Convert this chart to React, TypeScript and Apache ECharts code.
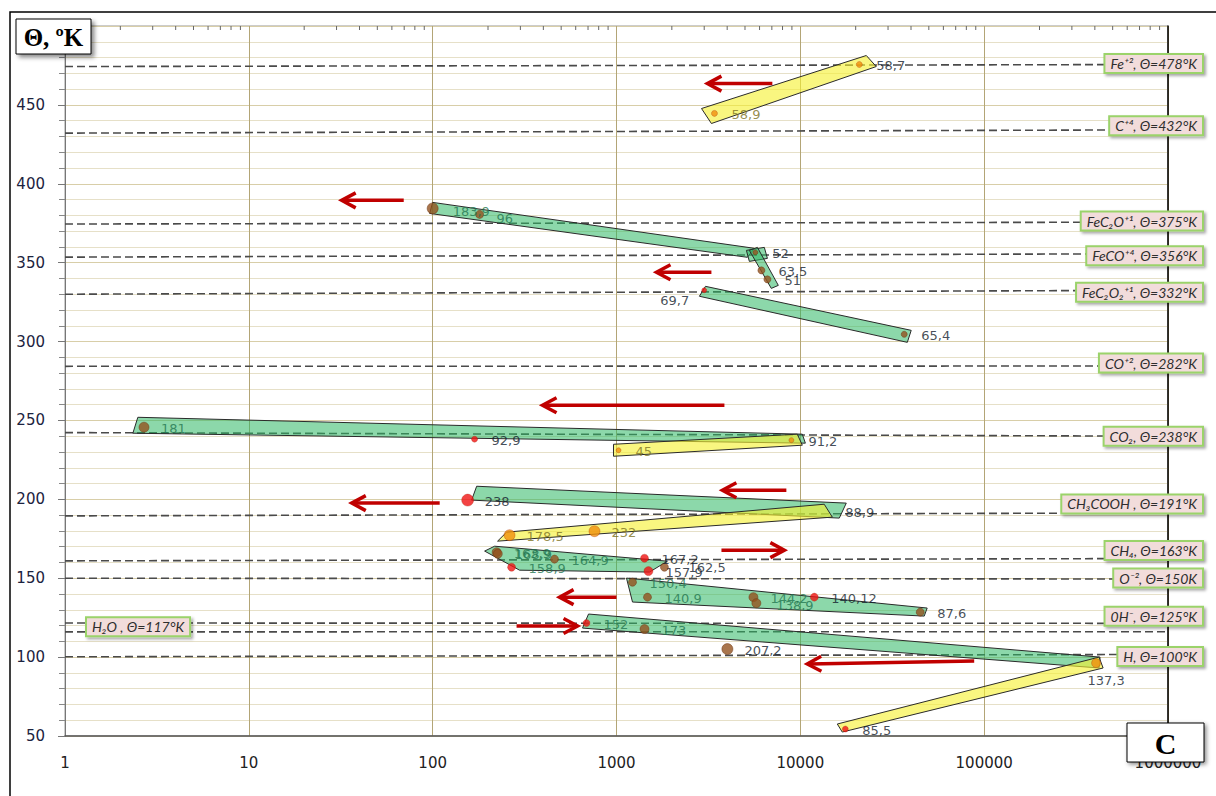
import React, { useEffect, useRef } from "react";
import * as echarts from "echarts";

// ---------- axes ----------
const xMin = 1;
const xMax = 1000000;
const yMin = 50;
const yMax = 500;
const yStep = 50;
const topMinorTicks = [
  2, 3, 4, 5, 6, 7, 8, 9,
  20, 30, 40, 50, 60, 70, 80, 90,
  200, 300, 400, 500, 600, 700, 800, 900,
  2000, 3000, 4000, 5000, 6000, 7000, 8000, 9000,
  20000, 30000, 40000, 50000, 60000, 70000, 80000, 90000,
  200000, 300000, 400000, 500000, 600000, 700000, 800000, 900000,
];

// ---------- reference (dashed) levels ----------
const refLabels = [
  "Fe⁺², Θ=478°K",
  "C⁺⁴, Θ=432°K",
  "FeC₂O⁺¹, Θ=375°K",
  "FeCO⁺⁴, Θ=356°K",
  "FeC₂O₂⁺¹, Θ=332°K",
  "CO⁺², Θ=282°K",
  "CO₂, Θ=238°K",
  "CH₃COOH , Θ=191°K",
  "CH₄, Θ=163°K",
  "O⁻², Θ=150K",
  "0H⁻, Θ=125°K",
  "H₂O , Θ=117°K",
  "H, Θ=100°K",
];
const refStart = [474.3, 432.1, 374.5, 353.5, 330, 284.3, 242.3, 189.5, 161, 150, 121.6, 116, 100.2];
const refEnd = [475.6, 434.2, 375.7, 355.7, 332.5, 284.5, 240, 191.4, 162.5, 149.5, 121.4, 116.1, 101.7];

// ---------- bands (corner points, data units) ----------
const greenBands: number[][][] = [
  [[100, 388.2], [5623, 359.1], [5152, 353.4], [96.3, 381.2]],
  [[5090, 357.8], [6370, 359.7], [6620, 352.7], [5280, 350.8]],
  [[5280, 357.8], [5840, 359.7], [7590, 335.6], [6950, 333.7]],
  [[3048, 335.0], [40100, 307.1], [38190, 299.5], [2825, 328.7]],
  [[2.49, 252.0], [10250, 241.3], [10650, 235.6], [2.34, 241.9]],
  [[173.5, 208.3], [17780, 197.6], [16290, 188.1], [162.9, 199.5]],
  [[191.7, 167.2], [217.3, 170.3], [1893, 160.8], [1511, 153.9], [297, 155.1]],
  [[1133, 150.1], [48980, 131.1], [47200, 126.0], [1222, 134.9]],
  [[704.5, 127.3], [426900, 100.0], [421700, 93.1], [653.5, 118.4]],
];
const yellowBands: number[][][] = [
  [[2900, 447.7], [22850, 481.3], [25880, 474.3], [3283, 438.2]],
  [[963, 234.9], [9630, 241.3], [10250, 234.3], [963, 227.3]],
  [[252.5, 179.2], [13490, 196.9], [14930, 188.7], [225.5, 173.5]],
  [[15890, 57.6], [421700, 100.0], [443600, 93.1], [16910, 52.5]],
];

// ---------- arrows: [x from, y from, x to, y to] ----------
const arrows: number[][] = [
  [7043, 463.5, 3124, 463.5],
  [69.6, 389.5, 32.0, 389.5],
  [3283, 343.9, 1650, 343.9],
  [3864, 259.6, 396, 259.6],
  [8395, 205.8, 3767, 205.8],
  [109.2, 197.6, 36.3, 197.6],
  [3723, 167.8, 8185, 167.8],
  [1000, 138.0, 490, 138.0],
  [286, 119.7, 614, 119.7],
  [88260, 97.5, 10910, 95.6],
];

// ---------- labelled points ----------
const pointX = [
  3411, 20930, 100, 180, 5690, 6140, 6620, 3000, 36740, 2.69, 169, 1026, 8940, 155, 15890, 262, 759,
  222.8, 226, 268.7, 460, 1420, 1492, 1823, 1222, 1474, 5556, 5765, 11910, 44900, 687, 1420, 4010,
  406200, 17570,
];
const pointY = [
  444.6, 475.6, 384.4, 380.6, 356.5, 345.1, 339.4, 332.5, 304.6, 245.7, 238.1, 231.1, 237.5, 199.5,
  192.5, 177.3, 179.8, 166.5, 165.5, 157.0, 162.1, 162.7, 154.5, 157.0, 147.5, 138.0, 138.0, 134.2,
  138.0, 128.5, 121.6, 117.8, 105.1, 96.2, 54.4,
];
const pointLabels = [
  "58,9", "58,7", "183,9", "96", "52", "63,5", "51", "69,7", "65,4", "181", "92,9", "45", "91,2",
  "238", "88,9", "178,5", "232", "163,9", "168,9", "158,9", "164,9", "167,2", "157,9", "162,5",
  "150,4", "140,9", "144,2", "138,9", "140,12", "87,6", "152", "173", "207,2", "137,3", "85,5",
];

// styles (kept apart from the data)
const pointKind = [
  "o", "o", "b", "b", "b", "b", "b", "r", "b", "b", "r", "o", "o", "r", "n", "o", "o",
  "b", "b", "r", "b", "r", "r", "b", "b", "b", "b", "b", "r", "b", "r", "b", "b", "o", "r",
];
const pointSize = [
  6, 6, 11, 8, 5, 7, 7, 5, 6, 10, 6, 5, 5, 12, 1, 11, 11,
  9, 9, 8, 8, 8, 9, 8, 8, 8, 9, 9, 8, 8, 7, 9, 11, 9, 6,
];
const pointTextKind = [
  "y", "d", "g", "g", "d", "d", "d", "d", "d", "g", "d", "y", "d", "d", "d", "y", "y",
  "g", "g", "g", "g", "d", "d", "d", "g", "g", "g", "g", "d", "d", "g", "g", "d", "d", "d",
];
const kindColor: Record<string, string> = { o: "#f0900c", b: "#94521f", r: "#f01414", n: "rgba(0,0,0,0)" };
const textColor: Record<string, string> = { g: "#237650", d: "#141e2e", y: "#7d7222" };
const refDy = [-1, -4, -1, 2, 2, -3, 0, -9, -8, -1, -7, -5, 2];
const refSide = ["r", "r", "r", "r", "r", "r", "r", "r", "r", "r", "r", "l", "r"];

export default function App() {
  const ref = useRef<HTMLDivElement>(null);

  useEffect(() => {
    const chart = echarts.init(ref.current!, null, { renderer: "svg" });

    const bandList = [...greenBands.map((c) => ({ c, k: "g" })), ...yellowBands.map((c) => ({ c, k: "y" }))];

    const scatterData = pointX.map((x, i) => {
      const lbl: any = {
        show: true,
        formatter: pointLabels[i],
        position: "inside",
        align: "left",
        offset: [17, 1],
        color: textColor[pointTextKind[i]],
        fontSize: 13,
        fontFamily: "DejaVu Sans",
      };
      if (pointLabels[i] === "183,9") lbl.offset = [20, 3];
      if (pointLabels[i] === "96") lbl.offset = [17, 4];
      if (pointLabels[i] === "88,9") lbl.offset = [8, 1];
      if (pointLabels[i] === "138,9") lbl.offset = [20, 2];
      if (pointLabels[i] === "162,5") lbl.offset = [24, 0];
      if (pointLabels[i] === "69,7") {
        lbl.align = "right";
        lbl.offset = [-15, 10];
      }
      if (pointLabels[i] === "137,3") {
        lbl.align = "center";
        lbl.offset = [10, 17];
      }
      return {
        value: [x, pointY[i]],
        symbolSize: pointSize[i],
        itemStyle: {
          color: kindColor[pointKind[i]],
          borderColor: pointKind[i] === "b" ? "#6b3612" : pointKind[i] === "n" ? "rgba(0,0,0,0)" : "rgba(160,30,0,0.6)",
          borderWidth: 0.6,
        },
        label: lbl,
      };
    });

    const option: any = {
      animation: false,
      backgroundColor: "#ffffff",
      textStyle: { fontFamily: "DejaVu Sans" },
      grid: { left: 65, right: 48, top: 26, bottom: 60, show: true, borderColor: "#999", borderWidth: 1 },
      xAxis: [
        {
          type: "log",
          logBase: 10,
          min: xMin,
          max: xMax,
          position: "bottom",
          axisLine: { show: true, onZero: false, lineStyle: { color: "#555", width: 1.5 } },
          axisTick: { show: false },
          axisLabel: {
            formatter: (v: number) => String(Math.round(v)),
            color: "#222",
            fontSize: 15,
            fontFamily: "DejaVu Sans",
            margin: 19,
          },
          splitLine: { show: true, lineStyle: { color: "#b3a576", width: 1 } },
        },
      ],
      yAxis: [
        {
          type: "value",
          min: yMin,
          max: yMax,
          interval: yStep,
          axisLine: { show: true, lineStyle: { color: "#777" } },
          axisTick: { show: true, length: 7, lineStyle: { color: "#777" } },
          minorTick: { show: true, splitNumber: 5, length: 6, lineStyle: { color: "#888" } },
          splitLine: { show: true, lineStyle: { color: "#d8cea8" } },
          minorSplitLine: { show: true, lineStyle: { color: "#e6e0c8" } },
          axisLabel: {
            formatter: (v: number) => (v === yMax ? "" : String(v)),
            color: "#1c2340",
            fontSize: 15,
            fontFamily: "DejaVu Sans",
            margin: 20,
          },
        },
        {
          type: "value",
          position: "right",
          min: yMin,
          max: yMax,
          interval: yStep,
          axisLine: { show: true, lineStyle: { color: "#000", width: 1.5 } },
          axisTick: { show: false },
          axisLabel: { show: false },
          splitLine: { show: false },
        },
      ],
      series: [
        ...refLabels.map((_, i) => ({
          type: "line",
          data: [
            [xMin, refStart[i]],
            [xMax, refEnd[i]],
          ],
          symbol: "none",
          silent: true,
          z: 1,
          lineStyle: { color: "#4a4a4a", width: 1.6, type: [8, 4] },
        })),
        {
          type: "custom",
          z: 2,
          silent: true,
          encode: { x: 0, y: 1 },
          data: bandList.map((b, i) => [b.c[0][0], b.c[0][1], i]),
          renderItem: (params: any, api: any) => {
            const b = bandList[api.value(2)];
            const pts = b.c.map((c) => api.coord(c));
            return {
              type: "polygon",
              shape: { points: pts },
              style: {
                fill: b.k === "y" ? "rgba(245,240,50,0.62)" : "rgba(46,184,100,0.55)",
                stroke: "#2a2a2a",
                lineWidth: 1,
              },
            };
          },
        },
        {
          type: "custom",
          z: 4,
          silent: true,
          encode: { x: [0, 2], y: [1, 3] },
          data: arrows,
          renderItem: (params: any, api: any) => {
            const p1 = api.coord([api.value(0), api.value(1)]);
            const p2 = api.coord([api.value(2), api.value(3)]);
            const dx = p2[0] - p1[0];
            const dy = p2[1] - p1[1];
            const len = Math.sqrt(dx * dx + dy * dy) || 1;
            const ux = dx / len;
            const uy = dy / len;
            const nx = -uy;
            const ny = ux;
            const back = 14;
            const half = 7.5;
            const a = [p2[0] - ux * back + nx * half, p2[1] - uy * back + ny * half];
            const b = [p2[0] - ux * back - nx * half, p2[1] - uy * back - ny * half];
            return {
              type: "group",
              children: [
                {
                  type: "line",
                  shape: { x1: p1[0], y1: p1[1], x2: p2[0] - ux * 2, y2: p2[1] - uy * 2 },
                  style: { stroke: "#c00000", lineWidth: 3.5 },
                },
                {
                  type: "polyline",
                  shape: { points: [a, p2, b] },
                  style: { stroke: "#c00000", lineWidth: 3.5, fill: "none", lineJoin: "miter" },
                },
              ],
            };
          },
        },
        {
          type: "custom",
          z: 3,
          silent: true,
          encode: { x: 0, y: 1 },
          data: topMinorTicks.map((v) => [v, yMax]),
          renderItem: (params: any, api: any) => {
            const p = api.coord([api.value(0), yMax]);
            return {
              type: "line",
              shape: { x1: p[0], y1: p[1], x2: p[0], y2: p[1] + 4 },
              style: { stroke: "#666", lineWidth: 1 },
            };
          },
        },
        {
          type: "scatter",
          z: 5,
          silent: true,
          data: scatterData,
        },
      ],
    };

    chart.setOption(option);

    const graphics: any[] = [
      {
        type: "rect",
        z: 0,
        shape: { x: 10, y: 12, width: 1400, height: 900 },
        style: { fill: "none", stroke: "#000", lineWidth: 1.5 },
      },
    ];

    refLabels.forEach((t, i) => {
      const left = refSide[i] === "l";
      const p = chart.convertToPixel({ gridIndex: 0 }, [left ? xMin : xMax, left ? refStart[i] : refEnd[i]]) as number[];
      graphics.push({
        type: "text",
        z: 60,
        x: left ? 87 : 1202,
        y: p[1] + refDy[i],
        style: {
          text: t,
          fontSize: 14,
          fontStyle: "italic",
          fontFamily: "Lato, 'DejaVu Sans', sans-serif",
          fill: "#2e2e2e",
          align: left ? "left" : "right",
          verticalAlign: "middle",
          backgroundColor: "#f2dcdb",
          borderColor: "#9bd36b",
          borderWidth: 2,
          padding: [2, 5, 1, 5],
          shadowBlur: 3,
          shadowColor: "rgba(0,0,0,0.35)",
          shadowOffsetX: 2,
          shadowOffsetY: 2,
        },
      });
    });

    graphics.push(
      {
        type: "rect",
        z: 70,
        shape: { x: 16, y: 19, width: 75, height: 35 },
        style: {
          fill: "#fff",
          stroke: "#000",
          lineWidth: 1,
          shadowBlur: 4,
          shadowColor: "rgba(0,0,0,0.45)",
          shadowOffsetX: 3,
          shadowOffsetY: 3,
        },
      },
      {
        type: "text",
        z: 71,
        x: 53.5,
        y: 37,
        style: {
          text: "Θ, ºK",
          fontSize: 25,
          fontWeight: "bold",
          fontFamily: "'Liberation Serif', serif",
          fill: "#000",
          align: "center",
          verticalAlign: "middle",
        },
      },
      {
        type: "rect",
        z: 70,
        shape: { x: 1127, y: 723, width: 77, height: 39 },
        style: {
          fill: "#fff",
          stroke: "#000",
          lineWidth: 1,
          shadowBlur: 4,
          shadowColor: "rgba(0,0,0,0.45)",
          shadowOffsetX: 2,
          shadowOffsetY: 2,
        },
      },
      {
        type: "text",
        z: 71,
        x: 1165.5,
        y: 743,
        style: {
          text: "C",
          fontSize: 30,
          fontWeight: "bold",
          fontFamily: "'Liberation Serif', serif",
          fill: "#000",
          align: "center",
          verticalAlign: "middle",
        },
      }
    );

    chart.setOption({ graphic: graphics });

    return () => chart.dispose();
  }, []);

  return (
    <div
      ref={ref}
      style={{ position: "fixed", left: 0, top: 0, width: 1216, height: 796, background: "#fff" }}
    />
  );
}
